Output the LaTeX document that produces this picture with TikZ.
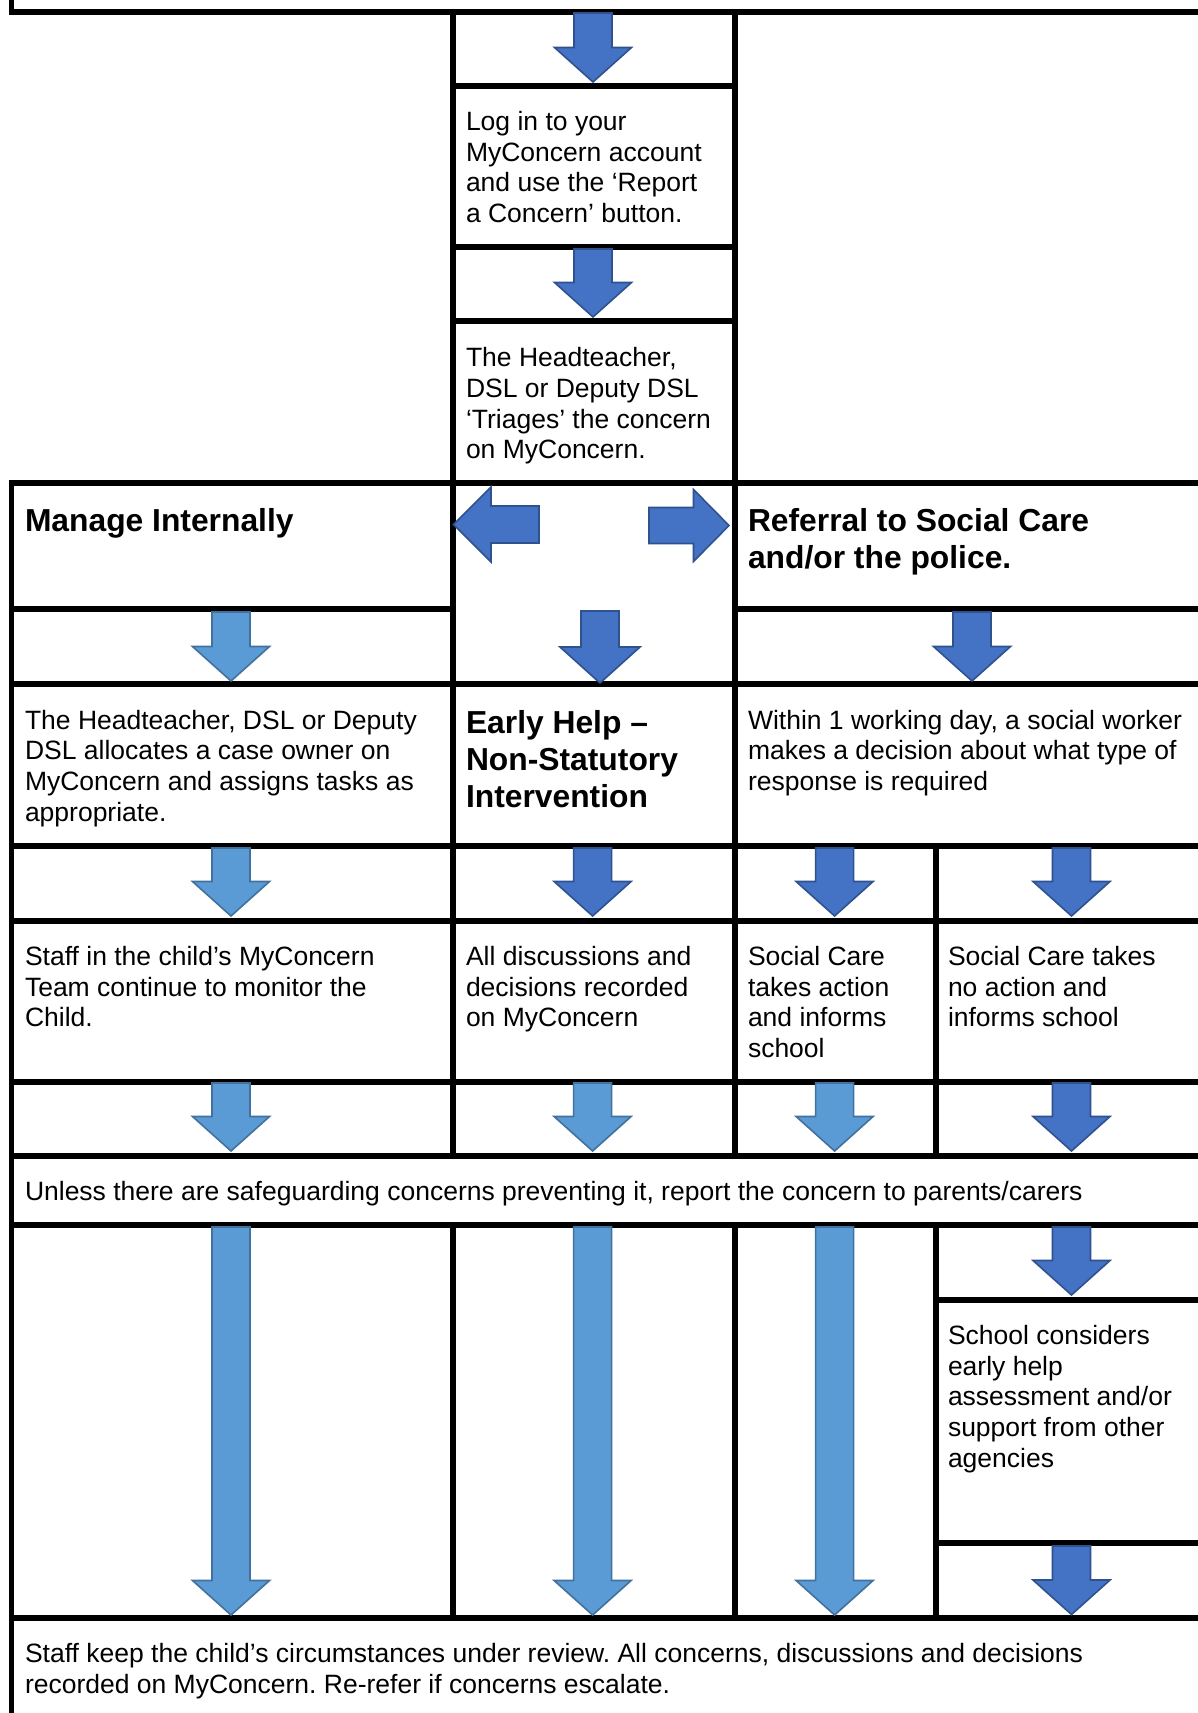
\documentclass[tikz,border=0pt]{standalone}
\usepackage{fontspec}
\setmainfont{Liberation Sans}
\frenchspacing
\definecolor{arrowdark}{HTML}{4472C4}
\definecolor{arrowdarkline}{HTML}{2F528F}
\definecolor{arrowlight}{HTML}{5B9BD5}
\definecolor{arrowlightline}{HTML}{41719C}
\newcommand\CellText[1]{\parbox[t]{1400pt}{\raggedright\frenchspacing #1}}
\newcommand\DnArrow[4]{%
  \draw[#1] ({#2-19},#3) -- ({#2+19},#3) -- ({#2+19},{#4-34.5}) -- ({#2+38.5},{#4-34.5})
    -- (#2,#4) -- ({#2-38.5},{#4-34.5}) -- ({#2-19},{#4-34.5}) -- cycle;}
\begin{document}
\begin{tikzpicture}[x=1pt,y=-1pt,
  grid/.style={line width=5.5pt, black, line join=miter},
  darkarrow/.style={fill=arrowdark, draw=arrowdarkline, line width=1.6pt, line join=miter},
  lightarrow/.style={fill=arrowlight, draw=arrowlightline, line width=1.6pt, line join=miter},
  txt/.style={anchor=base west, inner sep=0pt, outer sep=0pt, font=\fontsize{26.5}{30.7}\selectfont},
  head/.style={anchor=base west, inner sep=0pt, outer sep=0pt, font=\fontsize{31.8}{37}\selectfont\bfseries}]
\useasboundingbox (0,0) rectangle (1198,1713);
\clip (0,0) rectangle (1198,1713);
\fill[white] (0,0) rectangle (1198,1713);
% ---- table rules ----
\draw[grid] (11.5,-10) -- (11.5,12) -- (1220,12);
\draw[grid] (453,12) -- (453,1156);
\draw[grid] (735,12) -- (735,1156);
\draw[grid] (453,1225) -- (453,1618);
\draw[grid] (735,1225) -- (735,1618);
\draw[grid] (936,846) -- (936,1156);
\draw[grid] (936,1225) -- (936,1618);
\draw[grid] (11.5,480.25) -- (11.5,1730);
\foreach \yy in {86,247,321} \draw[grid] (453,\yy) -- (735,\yy);
\draw[grid] (8.75,483) -- (1220,483);
\draw[grid] (8.75,609) -- (453,609);
\draw[grid] (735,609) -- (1220,609);
\foreach \yy in {684,846,921,1082,1156,1225,1618} \draw[grid] (8.75,\yy) -- (1220,\yy);
\foreach \yy in {1300,1543} \draw[grid] (936,\yy) -- (1220,\yy);
% ---- block arrows ----
\DnArrow{darkarrow}{593}{13}{82}
\DnArrow{darkarrow}{593}{249}{317}
\draw[darkarrow] (539,506) -- (491,506) -- (491,487) -- (453.5,524.5) -- (491,562) -- (491,543) -- (539,543) -- cycle;
\draw[darkarrow] (649,507.5) -- (693.5,507.5) -- (693.5,489.5) -- (729,525.5) -- (693.5,561.5) -- (693.5,543.5) -- (649,543.5) -- cycle;
\DnArrow{lightarrow}{231}{612}{681}
\draw[darkarrow] (581,611) -- (619,611) -- (619,647) -- (640,647) -- (600,683) -- (560,647) -- (581,647) -- cycle;
\DnArrow{darkarrow}{972}{612}{681}
\DnArrow{lightarrow}{231}{848}{916}
\DnArrow{darkarrow}{592.6}{848}{916}
\DnArrow{darkarrow}{834.6}{848}{916}
\DnArrow{darkarrow}{1071.5}{848}{916}
\DnArrow{lightarrow}{231}{1083}{1151}
\DnArrow{lightarrow}{592.6}{1083}{1151}
\DnArrow{lightarrow}{834.6}{1083}{1151}
\DnArrow{darkarrow}{1071.5}{1083}{1151}
\DnArrow{darkarrow}{1071.5}{1227}{1295}
\DnArrow{lightarrow}{231}{1227}{1615}
\DnArrow{lightarrow}{592.6}{1227}{1615}
\DnArrow{lightarrow}{834.6}{1227}{1615}
\DnArrow{darkarrow}{1071.5}{1546}{1614.5}
% ---- texts ----
\node[txt] (login) at (466,130.5) {\CellText{Log in to your\\MyConcern account\\and use the ‘Report\\a Concern’ button.}};
\node[txt] (triage) at (466,366.7) {\CellText{The Headteacher,\\DSL or Deputy DSL\\‘Triages’ the concern\\on MyConcern.}};
\node[head] (manage) at (25,531) {\CellText{Manage Internally}};
\node[head] (referral) at (748,531.5) {\CellText{Referral to Social Care\\and/or the police.}};
\node[txt] (allocate) at (25,729) {\CellText{The Headteacher, DSL or Deputy\\DSL allocates a case owner on\\MyConcern and assigns tasks as\\appropriate.}};
\node[head] (early) at (466,733) {\CellText{Early Help –\\Non-Statutory\\Intervention}};
\node[txt] (within) at (748,729) {\CellText{Within 1 working day, a social worker\\makes a decision about what type of\\response is required}};
\node[txt] (monitor) at (25,965.5) {\CellText{Staff in the child’s MyConcern\\Team continue to monitor the\\Child.}};
\node[txt] (recorded) at (466,965.5) {\CellText{All discussions and\\decisions recorded\\on MyConcern}};
\node[txt] (action) at (748,965.5) {\CellText{Social Care\\takes action\\and informs\\school}};
\node[txt] (noaction) at (948,965.5) {\CellText{Social Care takes\\no action and\\informs school}};
\node[txt] (parents) at (25,1200) {\CellText{Unless there are safeguarding concerns preventing it, report the concern to parents/carers}};
\node[txt] (school) at (948,1344.5) {\CellText{School considers\\early help\\assessment and/or\\support from other\\agencies}};
\node[txt] (review) at (25,1662.7) {\CellText{Staff keep the child’s circumstances under review. All concerns, discussions and decisions\\recorded on MyConcern. Re-refer if concerns escalate.}};
\end{tikzpicture}
\end{document}
